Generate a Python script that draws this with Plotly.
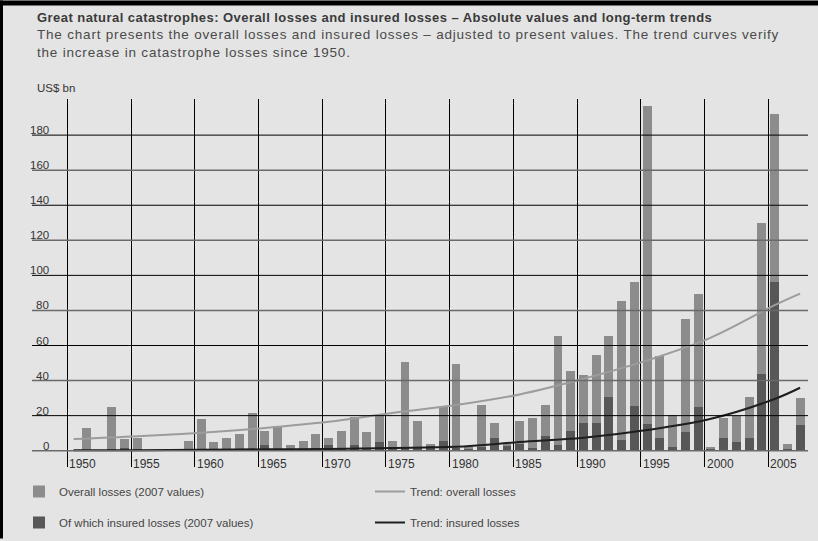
import plotly.graph_objects as go

# ---------------- data ----------------
years = list(range(1950, 2008))
overall = [0, 13.2, 0, 24.7, 6.4, 7.5, 0, 0, 0, 5.8,
           17.9, 4.7, 7.0, 9.8, 21.3, 11.1, 14.3, 3.0, 5.3, 9.8,
           7.0, 11.5, 19.1, 10.4, 20.4, 5.3, 50.7, 17.2, 3.9, 24.7,
           49.5, 2.8, 25.9, 16.0, 3.9, 17.2, 18.5, 26.0, 65.6, 45.6,
           43.3, 54.8, 65.6, 85.3, 96.2, 196.7, 54.1, 20.4, 74.9, 89.4,
           1.9, 18.5, 19.6, 30.4, 129.7, 192.0, 4.1, 30.0]
insured = [0, 0.2, 0, 0.5, 1.5, 0.5, 0, 0, 0, 0.3,
           0.8, 0.5, 1.0, 0.5, 1.0, 3.0, 1.0, 0.8, 1.2, 1.5,
           3.3, 1.5, 3.0, 1.5, 4.7, 1.5, 2.0, 1.5, 2.5, 5.8,
           1.5, 0.5, 2.0, 7.5, 2.5, 4.0, 1.5, 8.1, 3.4, 11.5,
           15.7, 15.7, 30.6, 6.0, 25.3, 15.1, 7.0, 1.9, 10.9, 24.7,
           0.5, 7.5, 4.9, 7.0, 43.8, 96.4, 0.5, 14.5]

trend_years = [1950, 1955, 1960, 1965, 1970, 1975, 1980, 1985, 1990, 1995, 2000, 2005, 2007]
trend_overall = [6.6, 8.2, 10.3, 13.0, 16.5, 21.5, 26.0, 32.1, 41.0, 51.5, 64.5, 83.0, 89.6]
trend_insured = [0.2, 0.3, 0.5, 0.8, 1.0, 1.5, 2.2, 4.9, 7.4, 11.8, 18.2, 29.5, 35.9]

y_ticks = [0, 20, 40, 60, 80, 100, 120, 140, 160, 180]
x_tick_years = [1950, 1955, 1960, 1965, 1970, 1975, 1980, 1985, 1990, 1995, 2000, 2005]

title_text = "Great natural catastrophes: Overall losses and insured losses \u2013 Absolute values and long-term trends"
subtitle_lines = [
    "The chart presents the overall losses and insured losses \u2013 adjusted to present values. The trend curves verify",
    "the increase in catastrophe losses since 1950.",
]
unit_label = "US$ bn"

# ---------------- figure ----------------
W, H = 818, 541
ML, MR, MT, MB = 32, 10, 99, 72
pw, ph = W - ML - MR, H - MT - MB
FONT = "Liberation Sans, Arial, Helvetica, sans-serif"
BG = "#e4e4e4"

fig = go.Figure()
fig.add_trace(go.Bar(x=years, y=overall, width=0.7, name="Overall losses (2007 values)",
                     marker=dict(color="#8c8c8c", line=dict(width=0)), legend="legend"))
fig.add_trace(go.Bar(x=years, y=insured, width=0.7, name="Of which insured losses (2007 values)",
                     marker=dict(color="#575757", line=dict(width=0)), legend="legend2"))
fig.add_trace(go.Scatter(x=trend_years, y=trend_overall, mode="lines", name="Trend: overall losses",
                         line=dict(color="#9c9c9c", width=2, shape="spline", smoothing=1.0),
                         legend="legend"))
fig.add_trace(go.Scatter(x=trend_years, y=trend_insured, mode="lines", name="Trend: insured losses",
                         line=dict(color="#1e1e1e", width=2, shape="spline", smoothing=1.0),
                         legend="legend2"))

# horizontal grid lines drawn above the bars
shapes = []
for v in y_ticks:
    black = (v // 20) % 2 == 1
    shapes.append(dict(type="line", xref="paper", yref="y", x0=0, x1=1, y0=v, y1=v,
                       line=dict(color="#000000" if black else "#6a6a6a", width=1 if black else 1.6),
                       layer="above"))
# page frame (top and left black border)
shapes.append(dict(type="line", xref="paper", yref="paper", x0=-ML / pw, x1=1 + MR / pw,
                   y0=1 + (MT - 2.5) / ph, y1=1 + (MT - 2.5) / ph, line=dict(color="black", width=5)))
shapes.append(dict(type="line", xref="paper", yref="paper", x0=-(ML - 1.5) / pw, x1=-(ML - 1.5) / pw,
                   y0=-MB / ph, y1=1 + MT / ph, line=dict(color="black", width=3)))


def page_y(py):
    """paper y for a page pixel row"""
    return 1 + (MT - py) / ph


annotations = []
for v in y_ticks:
    annotations.append(dict(text=str(v), xref="paper", yref="y", x=19 / pw, y=v,
                            xanchor="right", yanchor="bottom", yshift=-3, showarrow=False,
                            font=dict(size=11.5, color="#333333", family=FONT)))
for yr in x_tick_years:
    annotations.append(dict(text=str(yr), xref="x", yref="paper", x=yr - 0.5, y=0,
                            xanchor="left", yanchor="middle", xshift=0, yshift=3, showarrow=False,
                            font=dict(size=12, color="#333333", family=FONT)))
annotations.append(dict(text=unit_label, xref="paper", yref="paper", x=3 / pw, y=page_y(88),
                        xanchor="left", yanchor="middle", showarrow=False,
                        font=dict(size=11.5, color="#333333", family=FONT)))
annotations.append(dict(text='<span style="letter-spacing:0.45px">' + title_text + "</span>",
                        xref="paper", yref="paper", x=3 / pw, y=page_y(17),
                        xanchor="left", yanchor="middle", showarrow=False,
                        font=dict(size=13, color="#3a3a3a", family=FONT, weight="bold")))
for i, line in enumerate(subtitle_lines):
    annotations.append(dict(text='<span style="letter-spacing:0.8px">' + line + "</span>",
                            xref="paper", yref="paper", x=3 / pw, y=page_y(34.5 + 18 * i),
                            xanchor="left", yanchor="middle", showarrow=False,
                            font=dict(size=13.5, color="#4a4a4a", family=FONT)))

fig.update_layout(
    width=W, height=H,
    margin=dict(l=ML, r=MR, t=MT, b=MB),
    paper_bgcolor=BG, plot_bgcolor=BG,
    barmode="overlay", bargap=0,
    font=dict(family=FONT, size=11.5, color="#333333"),
    xaxis=dict(range=[1946.73, 2007.62], tickvals=[y - 0.5 for y in x_tick_years],
               showticklabels=False, ticks="", showgrid=True, gridcolor="#000000", gridwidth=1,
               zeroline=False, showline=False, fixedrange=True),
    yaxis=dict(range=[-9.3, 200.6], showgrid=False, showticklabels=False, ticks="",
               zeroline=False, showline=False, fixedrange=True),
    shapes=shapes,
    annotations=annotations,
    legend=dict(orientation="h", xref="container", yref="container", x=19 / W, y=1 - 477 / H,
                xanchor="left", yanchor="top", entrywidth=306, entrywidthmode="pixels",
                bgcolor="rgba(0,0,0,0)", font=dict(size=11.5, color="#444444", family=FONT),
                traceorder="normal"),
    legend2=dict(orientation="h", xref="container", yref="container", x=19 / W, y=1 - 508 / H,
                 xanchor="left", yanchor="top", entrywidth=306, entrywidthmode="pixels",
                 bgcolor="rgba(0,0,0,0)", font=dict(size=11.5, color="#444444", family=FONT),
                 traceorder="normal"),
    showlegend=True,
)

fig.write_html("out.html", config={"displayModeBar": False},
               post_script="document.body.style.margin='0';document.body.style.padding='0';")
